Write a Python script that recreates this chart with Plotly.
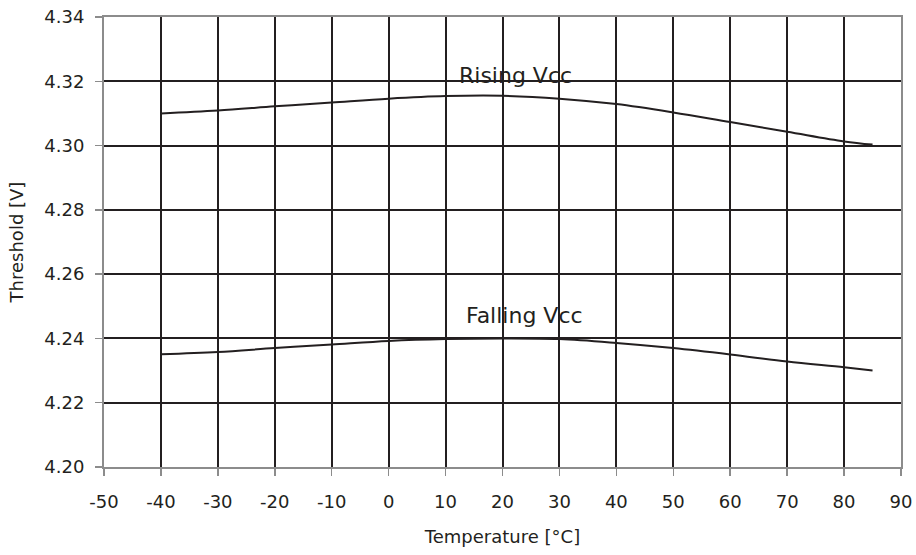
import plotly.graph_objects as go

temperature = [-40, -30, -20, -10, 0, 10, 20, 30, 40, 50, 60, 70, 80, 85]
rising_vcc = [4.3100, 4.3109, 4.3122, 4.3134, 4.3146, 4.3154, 4.3155, 4.3146, 4.3129, 4.3103, 4.3073, 4.3043, 4.3013, 4.3003]
falling_vcc = [4.2351, 4.2358, 4.2370, 4.2381, 4.2392, 4.2398, 4.2400, 4.2398, 4.2386, 4.2370, 4.2350, 4.2328, 4.2310, 4.2300]

x_ticks = list(range(-50, 91, 10))
y_ticks = [4.20, 4.22, 4.24, 4.26, 4.28, 4.30, 4.32, 4.34]
y_tick_text = [f"{v:.2f}" for v in y_ticks]

labels = [("Rising Vcc", 22.2, 4.3217), ("Falling Vcc", 23.9, 4.2472)]

FONT = "DejaVu Sans"
INK = "#231f20"

fig = go.Figure()
fig.add_trace(go.Scatter(x=temperature, y=rising_vcc, mode="lines",
                         line=dict(color=INK, width=2, shape="spline"), showlegend=False))
fig.add_trace(go.Scatter(x=temperature, y=falling_vcc, mode="lines",
                         line=dict(color=INK, width=2, shape="spline"), showlegend=False))

for text, x, y in labels:
    fig.add_annotation(x=x, y=y, text=text, showarrow=False,
                       font=dict(family=FONT, size=22, color=INK))

fig.update_layout(
    width=916, height=555,
    margin=dict(l=104, r=15, t=17, b=88),
    paper_bgcolor="white", plot_bgcolor="white",
    font=dict(family=FONT, size=18, color=INK),
    showlegend=False,
)
fig.update_xaxes(
    range=[-50, 90], tickvals=x_ticks, ticktext=[str(v) for v in x_ticks],
    showgrid=True, gridcolor=INK, gridwidth=2,
    showline=True, linecolor="#8c8c8c", linewidth=2, mirror=True,
    ticks="outside", ticklen=7, tickcolor="#8c8c8c", tickwidth=1.5,
    ticklabelstandoff=10, zeroline=False, automargin=False,
    ticklabeloverflow="allow",
    title=dict(text="Temperature [°C]", font=dict(family=FONT, size=18, color=INK), standoff=20),
)
fig.update_yaxes(
    range=[4.20, 4.34], tickvals=y_ticks, ticktext=y_tick_text,
    showgrid=True, gridcolor=INK, gridwidth=2,
    showline=True, linecolor="#8c8c8c", linewidth=2, mirror=True,
    ticks="outside", ticklen=7, tickcolor="#8c8c8c", tickwidth=1.5,
    ticklabelstandoff=7, zeroline=False, automargin=False,
    ticklabeloverflow="allow",
    title=dict(text="Threshold [V]", font=dict(family=FONT, size=18, color=INK), standoff=16),
)

# remove the default 8px page margin so the figure fills the window exactly
fig.write_html(
    "out.html",
    config={"displayModeBar": False, "staticPlot": True},
    post_script="document.body.style.margin='0px';document.documentElement.style.overflow='hidden';",
)
